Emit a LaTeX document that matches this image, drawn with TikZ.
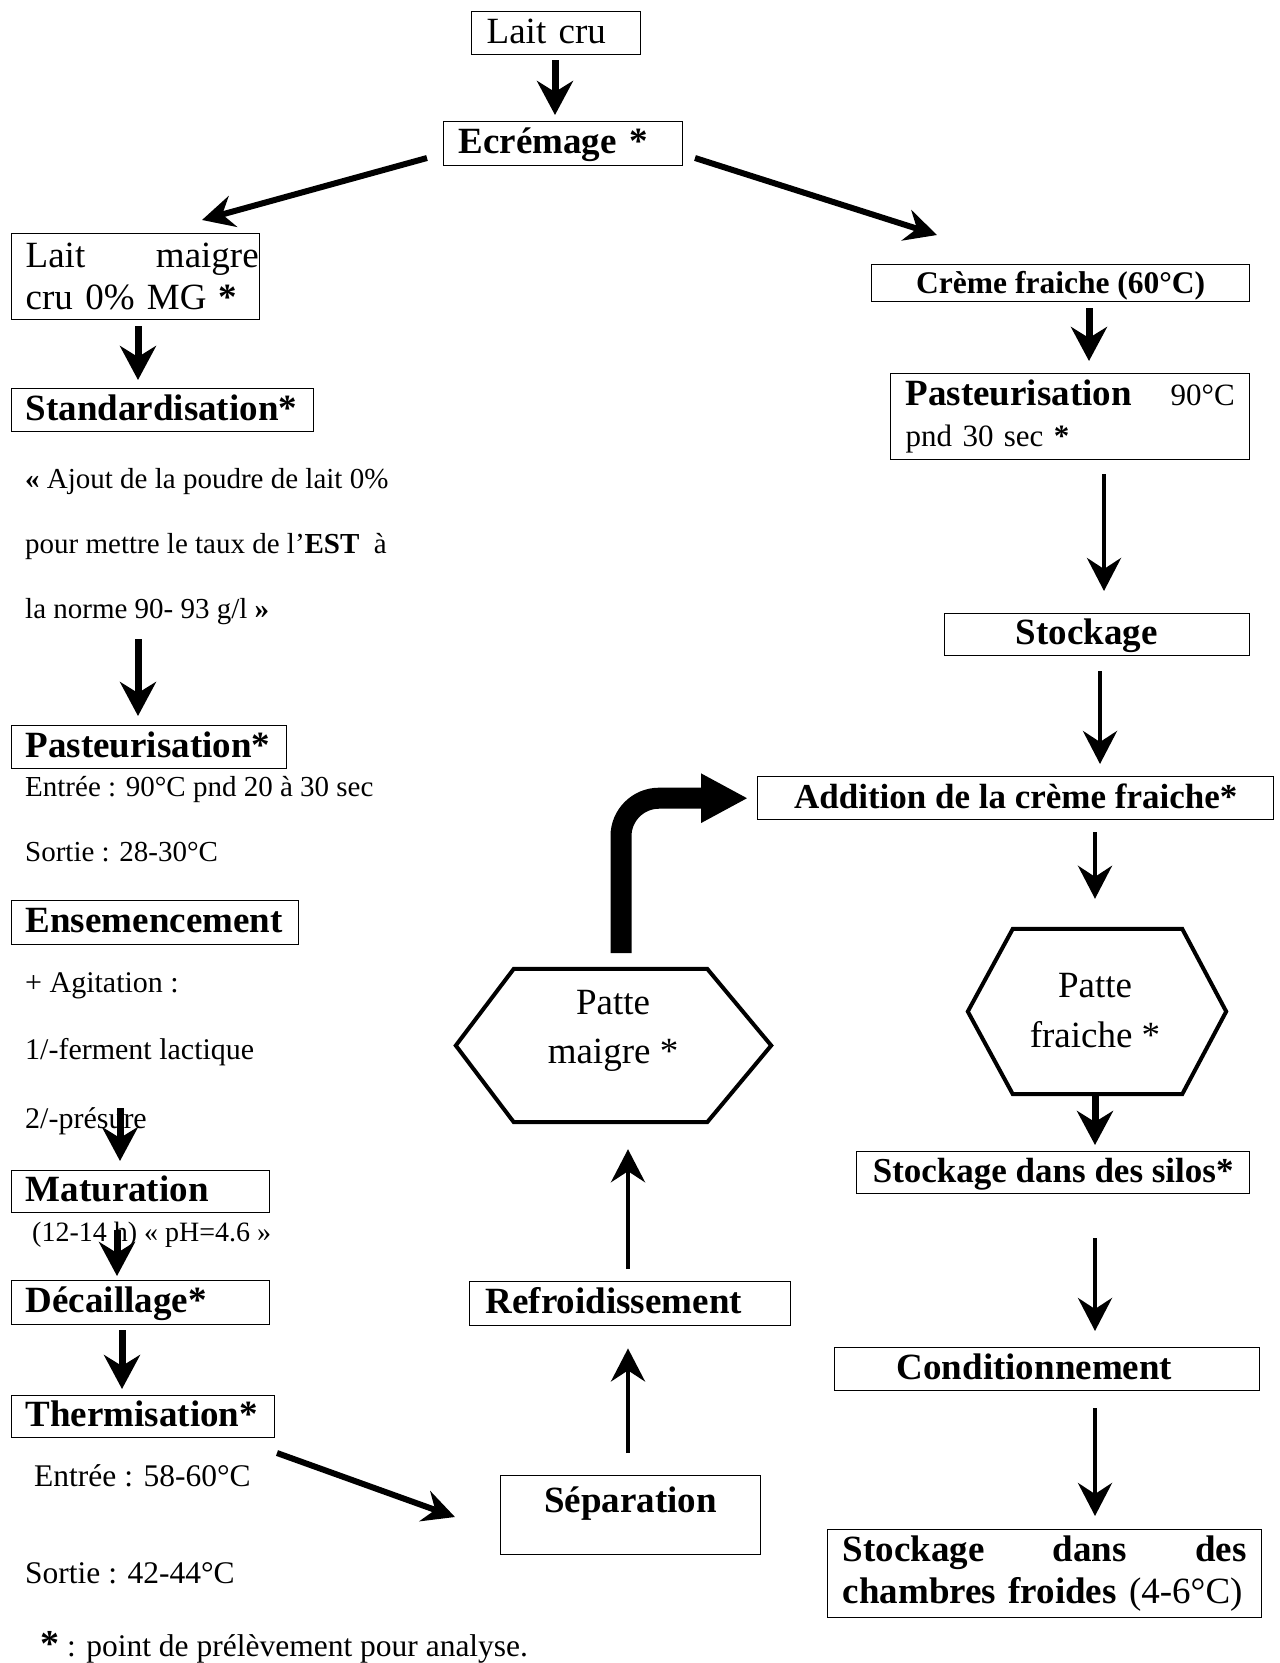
\documentclass[tikz,border=0pt]{standalone}
\usepackage{fontspec}
\setmainfont{Liberation Serif}
\usetikzlibrary{arrows.meta}
\newcommand\myfs[1]{\fontsize{#1}{#1}\selectfont}
\tikzset{
  box/.style={draw, line width=1.4pt, anchor=north west, inner ysep=0pt, inner xsep=0pt, font=\bfseries\myfs{37}},
  sl/.style={text height=26pt, text depth=6pt},
  note/.style={anchor=base west, inner sep=0pt, font=\myfs{29}},
  thickarr/.style={line width=7pt, -{Stealth[length=34pt,width=36pt,inset=11pt]}},
  thinarr/.style={line width=4.5pt, -{Stealth[length=33pt,width=34pt,inset=11pt]}},
  diagarr/.style={line width=6pt, -{Stealth[length=32pt,width=32pt,inset=11pt]}},
  hexa/.style={line width=4pt, line join=miter},
}
\begin{document}
\begin{tikzpicture}[x=1pt,y=-1pt]
\useasboundingbox (0,0) rectangle (1280,1663);
% ---------------- left column
\node[box, font=\myfs{37}, sl, minimum width=169pt, minimum height=43pt, text width=139pt, align=left, inner xsep=15pt] (lc) at (471,11) {Lait cru};
\node[box, sl, minimum width=239pt, minimum height=44pt, text width=209pt, align=left, inner xsep=15pt] (ecr) at (443,121) {Ecrémage *};
\node[box, font=\fontsize{37}{42}\selectfont, minimum width=248pt, minimum height=86pt, text width=248pt, align=left] (lm) at (11,233) {\hspace*{14pt}\hbox to 233pt{Lait\hfil maigre}\\\hspace*{14pt}cru 0\% MG \textbf{*}};
\node[box, sl, minimum width=302pt, minimum height=43pt, text width=274pt, align=left, inner xsep=14pt] (std) at (11,388) {Standardisation*};
\node[note] (sn1) at (25,488) {{\bfseries «} Ajout de la poudre de lait 0\%};
\node[note] (sn2) at (25,553) {pour mettre le taux de l’\textbf{EST}\ \ à};
\node[note] (sn3) at (25,618) {la norme 90- 93 g/l {\bfseries »}};
\node[box, sl, minimum width=275pt, minimum height=43pt, text width=247pt, align=left, inner xsep=14pt] (past) at (11,725) {Pasteurisation*};
\node[note] (pe) at (25,796) {Entrée : 90°C pnd 20 à 30 sec};
\node[note] (ps) at (25,861) {Sortie : 28-30°C};
\node[box, sl, minimum width=287pt, minimum height=44pt, text width=259pt, align=left, inner xsep=14pt] (ens) at (11,900) {Ensemencement};
\node[note, font=\myfs{30}] (ag) at (25,992) {+ Agitation :};
\node[note, font=\myfs{30}] (fl) at (25,1059) {1/-ferment lactique};
\node[note, font=\myfs{30}] (pz) at (25,1128) {2/-présure};
\node[box, sl, minimum width=258pt, minimum height=42pt, text width=230pt, align=left, inner xsep=14pt] (mat) at (11,1170) {Maturation};
\node[note, font=\myfs{28}] (ph) at (32,1241) {(12-14 h) « pH=4.6 »};
\node[box, sl, minimum width=258pt, minimum height=44pt, text width=230pt, align=left, inner xsep=14pt] (dec) at (11,1280) {Décaillage*};
\node[box, sl, minimum width=263pt, minimum height=42pt, text width=235pt, align=left, inner xsep=14pt] (the) at (11,1395) {Thermisation*};
\node[note, font=\myfs{31.5}] (te) at (34,1486) {Entrée : 58-60°C};
\node[note, font=\myfs{31.5}] (ts) at (25,1583) {Sortie : 42-44°C};
% ---------------- middle column
\node[box, text height=37pt, text depth=42pt, minimum width=260pt] (sep) at (500,1475) {Séparation};
\node[box, sl, minimum width=321pt, minimum height=44pt, text width=289pt, align=left, inner xsep=16pt] (ref) at (469,1281) {Refroidissement};
\node[minimum width=315pt, minimum height=153pt, inner sep=0pt] (pm) at (613.5,1045.5) {};
\draw[hexa] (pm.west) -- ([xshift=58pt]pm.north west) -- ([xshift=-64pt]pm.north east) -- (pm.east) -- ([xshift=-64pt]pm.south east) -- ([xshift=58pt]pm.south west) -- cycle;
\node[font=\fontsize{37}{49}\selectfont, align=center, inner sep=0pt] (pmt) at (613,1031) {Patte\\maigre *};
% ---------------- right column
\node[box, sl, font=\bfseries\myfs{31.5}, minimum width=378pt, minimum height=37pt] (cf) at (871,264) {Crème fraiche (60°C)};
\node[box, font=\fontsize{31}{41}\selectfont, minimum width=359pt, minimum height=86pt, text width=329pt, align=left, inner xsep=15pt] (pr) at (890,373) {\hbox to 329pt{{\bfseries\myfs{37}Pasteurisation}\hfil 90°C}\\pnd 30 sec \textbf{*}};
\node[box, sl, minimum width=305pt, minimum height=42pt, text width=305pt, align=left, inner xsep=0pt] (st) at (944,613) {\hspace*{71pt}Stockage};
\node[box, sl, font=\bfseries\myfs{35}, minimum width=516pt, minimum height=43pt] (add) at (757,776) {Addition de la crème fraiche*};
\node[minimum width=258pt, minimum height=165pt, inner sep=0pt] (pf) at (1097,1011.5) {};
\draw[hexa] (pf.west) -- ([xshift=45pt]pf.north west) -- ([xshift=-44pt]pf.north east) -- (pf.east) -- ([xshift=-44pt]pf.south east) -- ([xshift=45pt]pf.south west) -- cycle;
\node[font=\fontsize{37}{50}\selectfont, align=center, inner sep=0pt] (pft) at (1095,1011) {Patte\\fraiche *};
\node[box, sl, font=\bfseries\myfs{35}, minimum width=393pt, minimum height=42pt] (silos) at (856,1151) {Stockage dans des silos*};
\node[box, sl, minimum width=425pt, minimum height=43pt, text width=425pt, align=left, inner xsep=0pt] (cond) at (834,1347) {\hspace*{62pt}Conditionnement};
\node[box, font=\bfseries\fontsize{37}{42}\selectfont, minimum width=434pt, minimum height=88pt, text width=404pt, align=left, inner xsep=15pt] (cold) at (827,1529) {\hbox to 404pt{Stockage\hfil dans\hfil des}\\chambres froides {\mdseries(4-6°C)}};
% ---------------- footnote
\node[note, font=\myfs{31.5}] (fn) at (40,1656) {{\bfseries\myfs{38}*} : point de prélèvement pour analyse.};
% ---------------- connectors
\coordinate (a1) at (555,60);
\draw[thickarr, shorten >=6pt] (a1) -- (a1 |- ecr.north);
\coordinate (a2) at (138,326);
\draw[thickarr, shorten >=8pt] (a2) -- (a2 |- std.north);
\coordinate (a3) at (138,639);
\draw[thickarr, shorten >=9pt] (a3) -- (a3 |- past.north);
\coordinate (a4) at (120,1108);
\draw[thickarr, shorten >=9pt] (a4) -- (a4 |- mat.north);
\coordinate (a5) at (117,1230);
\draw[thickarr, shorten >=4pt] (a5) -- (a5 |- dec.north);
\coordinate (a6) at (122,1330);
\draw[thickarr, shorten >=6pt] (a6) -- (a6 |- the.north);
\coordinate (a7) at (1089,308);
\draw[thickarr, shorten >=12pt] (a7) -- (a7 |- pr.north);
\coordinate (a8) at (1104,474);
\draw[thinarr, shorten >=22pt] (a8) -- (a8 |- st.north);
\coordinate (a9) at (1100,671);
\draw[thinarr, shorten >=12pt] (a9) -- (a9 |- add.north);
\coordinate (a10) at (1095,832);
\draw[thinarr, shorten >=30pt] (a10) -- (a10 |- pf.north);
\coordinate (a11) at (1095,1095);
\draw[thickarr, shorten >=6pt] (a11) -- (a11 |- silos.north);
\coordinate (a12) at (1095,1238);
\draw[thinarr, shorten >=16pt] (a12) -- (a12 |- cond.north);
\coordinate (a13) at (1095,1408);
\draw[thinarr, shorten >=13pt] (a13) -- (a13 |- cold.north);
\coordinate (u1) at (628,1453);
\draw[thinarr, shorten >=22pt] (u1) -- (u1 |- ref.south);
\coordinate (u2) at (628,1269);
\draw[thinarr, shorten >=27pt] (u2) -- (u2 |- pm.south);
\coordinate (d1s) at (427,158);
\coordinate (d1e) at (202,220);
\draw[diagarr] (d1s) -- (d1e);
\coordinate (d2s) at (695,158);
\coordinate (d2e) at (937,235);
\draw[diagarr] (d2s) -- (d2e);
\coordinate (d3s) at (277,1453);
\coordinate (d3e) at (455,1517);
\draw[diagarr] (d3s) -- (d3e);
\coordinate (bs) at (621,953);
\draw[line width=21pt, rounded corners=38pt, -{Triangle[length=47pt,width=46pt]}, shorten >=9pt] (bs) -- (bs |- add.west) -- (add.west);
\end{tikzpicture}
\end{document}
